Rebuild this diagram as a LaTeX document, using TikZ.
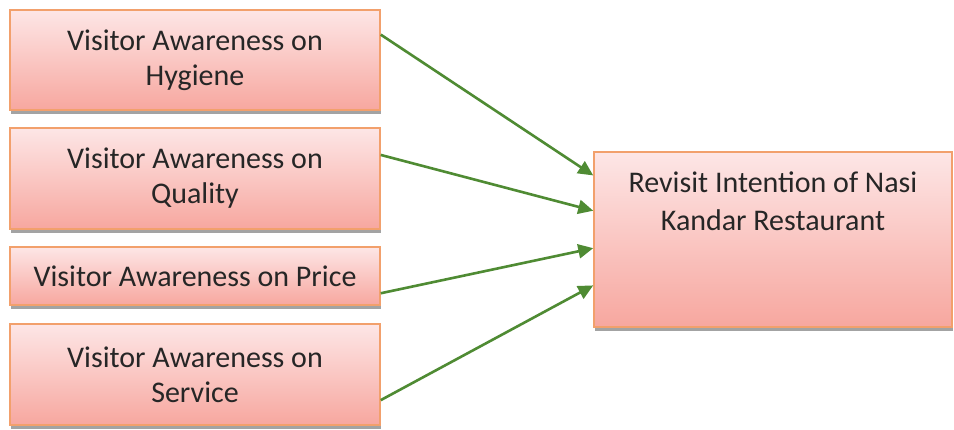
\documentclass[tikz,border=0pt]{standalone}
\usepackage{fontspec}
\setmainfont{Carlito}
\usetikzlibrary{calc,shadows,arrows.meta}
\definecolor{boxtop}{HTML}{FDE6E6}
\definecolor{boxbot}{HTML}{F7A79F}
\definecolor{boxline}{HTML}{F2A06C}
\definecolor{arrowgreen}{HTML}{4F8B33}
\definecolor{txt}{HTML}{262626}
\tikzset{
  factor/.style={draw=boxline, line width=1.5pt, top color=boxtop, bottom color=boxbot,
    minimum width=370pt, align=center, text=txt, inner sep=0pt,
    font=\fontsize{30}{35}\selectfont,
    drop shadow={shadow xshift=1pt, shadow yshift=-3.5pt, fill=black!45, opacity=0.8}},
  link/.style={draw=arrowgreen, line width=2.6pt, -{Triangle[length=15pt,width=14pt]}}
}
\begin{document}
\begin{tikzpicture}[x=1pt,y=-1pt]
\useasboundingbox (0,0) rectangle (954,429);
\fill[white] (0,0) rectangle (954,429);
\node[factor, minimum height=100pt] (b1) at (195,60) {Visitor Awareness on\\Hygiene};
\node[factor, minimum height=101pt] (b2) at (195,178.5) {Visitor Awareness on\\Quality};
\node[factor, minimum height=58pt] (b3) at (195,276) {Visitor Awareness on Price};
\node[factor, minimum width=358pt, minimum height=175pt,
  label={[anchor=north, yshift=-17pt, align=center, text=txt, font=\fontsize{30}{38}\selectfont]north:Revisit Intention of Nasi\\Kandar Restaurant}] (r) at (773,239.5) {};
\node[factor, minimum height=101pt] (b4) at (195,374.5) {Visitor Awareness on\\Service};
\draw[link] ($(b1.north east)!0.25!(b1.south east)$) -- ($(r.north west)!0.137!(r.south west)$);
\draw[link] ($(b2.north east)!0.27!(b2.south east)$) -- ($(r.north west)!0.337!(r.south west)$);
\draw[link] ($(b3.north east)!0.79!(b3.south east)$) -- ($(r.north west)!0.549!(r.south west)$);
\draw[link] ($(b4.north east)!0.75!(b4.south east)$) -- ($(r.north west)!0.76!(r.south west)$);
\end{tikzpicture}
\end{document}
